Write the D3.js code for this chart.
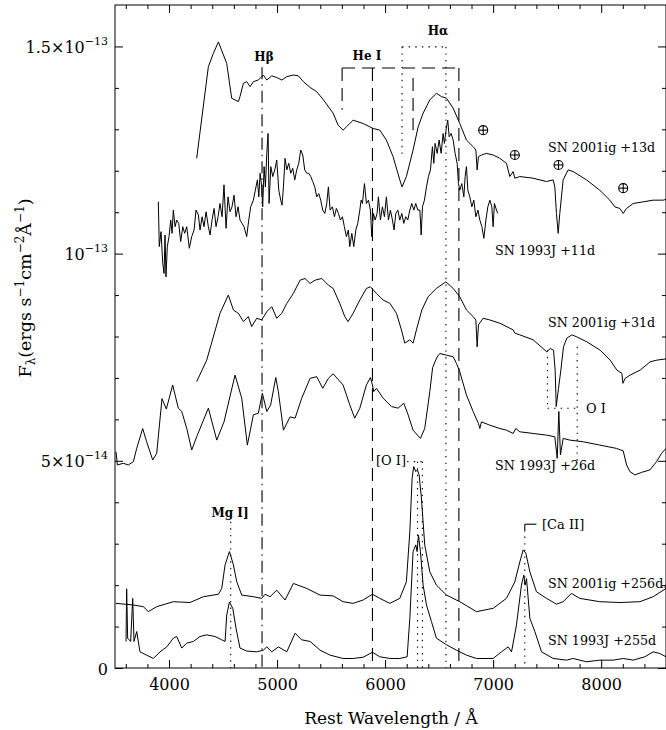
<!DOCTYPE html>
<html>
<head>
<meta charset="utf-8">
<title>SN 2001ig and SN 1993J spectra</title>
<script src="https://d3js.org/d3.v7.js"></script>
<style>
    body { margin: 0; background: #fff; }
    svg text { font-family: "DejaVu Serif", serif; fill: #000; }
    .spec { fill: none; stroke: #000; stroke-width: 1; stroke-linejoin: round; }
    .mark { fill: none; stroke: #000; stroke-width: 1.1; }
</style>
</head>
<body>
<svg id="chart" width="666" height="730"></svg>
<script>
    // Spectra (wavelength in Angstrom, flux in 1e-14 erg/s/cm2/A, offsets included)
    var ig13Wave = [4256,4364,4410,4457,4534,4580,4611,4642,4657,4688,4719,4750,4781,4827,4873,4905,4951,4997,5044,5090,5151,5197,5244,5306,5367,5429,5519,5565,5611,5642,5704,5796,5889,5951,6012,6074,6136,6157,6197,6259,6306,6352,6414,6475,6521,6568,6630,6691,6753,6815,6840,6852,6864,6892,6938,7000,7062,7123,7154,7185,7201,7247,7370,7494,7556,7571,7586,7602,7617,7648,7694,7741,7864,7987,8080,8126,8173,8204,8235,8296,8389,8481,8574,8600];
    var ig13Flux = [12.30,14.51,14.83,15.11,14.59,13.75,13.71,13.67,13.79,14.11,14.15,14.03,14.15,14.19,14.31,14.19,14.29,14.25,14.19,14.27,14.31,14.29,14.15,14.01,13.91,13.71,13.39,13.10,12.98,13.06,13.22,13.14,13.02,12.98,12.74,12.34,11.78,11.61,11.86,12.50,13.06,13.39,13.71,13.87,13.79,13.75,13.51,13.14,12.74,12.58,12.50,12.02,12.34,12.38,12.42,12.38,12.30,12.18,11.86,11.98,11.82,11.86,11.82,11.74,11.78,11.61,10.97,10.49,10.97,11.78,12.02,11.98,11.78,11.53,11.29,11.13,11.09,10.97,11.09,11.21,11.25,11.29,11.29,11.31];

    var j11Wave = [3901,3910,3926,3942,3954,3963,3972,3984,4000,4016,
        4028,4040,4056,4071,4090,4108,4127,4145,4164,4188,
        4210,4232,4250,4272,4287,4306,4324,4343,4364,4380,
        4398,4417,4435,4454,4472,4491,4509,4528,4546,4565,
        4583,4602,4620,4639,4657,4676,4694,4719,4738,4756,
        4781,4799,4818,4831,4843,4858,4867,4880,4892,4905,
        4917,4926,4942,4960,4979,4997,5016,5034,5046,5059,
        5074,5090,5108,5127,5145,5164,5182,5201,5219,5238,
        5256,5275,5293,5312,5330,5349,5367,5386,5404,5423,
        5442,5460,5475,5491,5512,5531,5549,5568,5586,5605,
        5623,5642,5660,5673,5692,5710,5729,5747,5766,5778,
        5790,5809,5827,5846,5864,5877,5892,5908,5926,5938,
        5957,5975,5994,6012,6031,6049,6068,6083,6099,6118,
        6136,6155,6173,6192,6210,6229,6247,6266,6284,6303,
        6322,6334,6346,6364,6383,6401,6420,6438,6451,6463,
        6482,6500,6519,6537,6549,6568,6580,6593,6611,6630,
        6648,6667,6679,6691,6710,6729,6741,6753,6766,6784,
        6803,6821,6840,6859,6877,6896,6914,6933,6951,6970,
        6988,7000,7012,7031,7043];
    var j11Flux = [11.25,10.17,10.53,9.77,9.52,10.45,9.44,10.17,10.41,10.81,
        10.49,11.05,10.65,10.81,10.73,10.29,10.65,10.49,10.65,10.13,
        10.41,10.57,11.05,10.93,10.57,10.89,10.65,11.01,10.65,10.45,
        10.81,11.09,10.65,10.89,11.21,10.89,11.66,10.61,11.37,11.01,
        11.13,11.41,10.89,11.13,10.81,10.73,10.65,10.41,10.81,11.13,
        11.29,11.53,11.78,11.37,11.94,11.61,11.13,12.10,11.61,12.42,
        12.90,11.21,12.10,11.86,12.02,12.26,11.53,11.29,11.17,11.61,
        12.30,12.02,12.18,11.94,12.06,11.78,12.02,12.18,12.50,12.38,
        12.02,11.94,11.94,11.86,11.74,11.61,11.37,11.45,11.29,11.05,
        10.97,11.21,11.61,11.05,11.13,10.89,11.09,10.97,10.81,10.89,
        10.65,10.41,10.57,10.17,10.49,10.17,10.57,10.73,11.05,11.29,
        11.21,11.69,11.21,11.29,11.05,10.41,10.97,10.81,10.97,11.37,
        10.81,11.13,10.89,11.37,10.81,11.05,10.81,10.57,10.97,11.05,
        10.81,10.97,10.73,10.89,10.81,11.05,11.21,11.05,11.21,11.05,
        11.05,10.45,11.13,11.29,11.61,11.86,12.02,12.58,12.18,12.66,
        12.42,12.74,12.42,12.90,12.66,13.06,13.22,12.82,12.90,12.74,
        12.42,12.18,11.69,11.53,11.69,11.37,11.86,12.10,11.53,11.37,
        11.13,11.29,10.89,11.05,10.81,10.65,10.37,10.81,11.13,11.29,
        11.13,10.65,11.21,11.05,10.97];

    var ig31Wave = [4256,4349,4472,4549,4596,4642,4688,4734,4765,4812,4858,4905,4951,4997,5044,5090,5151,5213,5259,5306,5352,5414,5475,5519,5580,5627,5657,5704,5766,5827,5864,5920,5982,6044,6105,6151,6182,6229,6259,6290,6340,6398,6475,6562,6630,6691,6753,6815,6840,6852,6864,6907,6969,7062,7154,7185,7201,7247,7370,7497,7528,7559,7574,7584,7605,7627,7651,7682,7729,7775,7868,7991,8083,8145,8192,8201,8222,8269,8361,8454,8516,8600];
    var ig31Flux = [6.91,7.43,8.56,9.00,8.64,8.56,8.36,8.48,8.24,8.44,8.40,8.60,8.72,8.44,8.56,8.80,9.04,9.36,9.40,9.28,9.36,9.40,9.24,9.16,8.80,8.48,8.36,8.56,8.88,9.16,9.20,9.04,8.88,8.80,8.56,8.16,7.84,7.92,7.84,8.16,8.64,8.96,9.16,9.32,9.16,8.96,8.64,8.48,8.40,7.75,8.28,8.44,8.40,8.32,8.20,8.16,8.08,8.04,7.92,7.63,7.71,7.67,7.19,6.31,6.75,7.19,7.75,7.96,8.04,7.99,7.87,7.67,7.43,7.19,7.11,6.87,6.99,7.07,7.19,7.39,7.43,7.46];

    var j26Wave = [3509,3522,3577,3623,3670,3701,3756,3793,3849,3886,3935,3975,4034,4086,4118,4164,4210,4256,4364,4442,4509,4611,4673,4725,4781,4827,4864,4905,4941,4988,5012,5059,5120,5167,5228,5306,5367,5423,5475,5519,5611,5673,5719,5766,5827,5864,5883,5895,5920,5982,6059,6120,6173,6213,6259,6327,6367,6414,6440,6480,6506,6568,6630,6661,6691,6753,6815,6864,6877,6892,6969,7062,7123,7185,7210,7247,7370,7494,7571,7593,7608,7623,7648,7710,7833,7987,8141,8204,8235,8266,8312,8373,8451,8512,8559,8600];
    var j26Flux = [5.22,4.90,4.94,4.90,4.98,5.30,5.78,5.46,5.02,5.18,6.50,6.25,6.83,6.27,6.19,5.78,5.26,5.58,6.27,5.50,5.94,7.07,6.51,5.38,6.11,6.15,6.63,6.19,6.35,7.01,6.67,5.74,6.06,6.03,6.51,6.99,7.03,6.75,6.99,7.10,6.83,6.35,6.03,6.27,6.83,7.01,6.83,6.67,6.75,6.51,6.31,6.27,6.39,6.11,5.74,5.54,5.78,6.67,7.25,7.50,7.59,7.55,7.51,7.35,7.15,6.59,6.19,5.90,5.78,5.94,5.86,5.78,5.74,5.66,5.78,5.70,5.66,5.62,5.58,5.06,6.19,5.14,5.54,5.50,5.46,5.38,5.30,5.24,4.90,4.74,4.66,4.72,4.78,4.98,5.18,5.30];

    var ig256Wave = [3509,3670,3762,3809,3886,4040,4194,4318,4457,4488,4519,4559,4596,4627,4673,4781,4858,4889,4935,4997,5074,5151,5275,5398,5519,5611,5704,5796,5883,5951,6044,6136,6197,6229,6250,6265,6284,6299,6315,6336,6367,6414,6475,6568,6691,6846,7000,7123,7201,7247,7278,7303,7340,7401,7494,7586,7648,7725,7802,7987,8173,8358,8481,8600];
    var ig256Flux = [1.56,1.52,1.48,1.36,1.48,1.60,1.58,1.72,1.78,1.92,2.49,2.81,2.49,2.08,1.76,1.72,1.68,1.78,1.72,1.88,1.64,2.04,1.92,1.76,1.74,1.60,1.56,1.64,1.78,1.68,1.56,1.68,2.08,3.29,4.58,4.86,4.74,4.78,4.66,4.10,2.97,2.32,2.00,1.76,1.60,1.36,1.44,1.68,2.08,2.56,2.85,2.77,2.32,1.84,1.68,1.54,1.60,1.80,1.68,1.60,1.58,1.60,1.72,1.92];

    var j255Wave = [3602,3608,3617,3645,3664,3676,3701,3731,3793,3855,3917,3979,4040,4071,4118,4164,4225,4287,4349,4426,4488,4519,4534,4559,4590,4620,4657,4719,4812,4873,4905,4951,5012,5090,5167,5228,5306,5398,5491,5611,5704,5796,5883,5951,6044,6136,6204,6229,6259,6284,6296,6309,6327,6352,6383,6429,6475,6568,6661,6753,6846,7000,7077,7139,7170,7216,7262,7284,7296,7309,7340,7386,7448,7556,7679,7741,7864,7987,8111,8204,8296,8404,8481,8543,8600];
    var j255Flux = [0.64,1.91,0.72,0.64,1.68,0.64,0.88,0.39,0.31,0.23,0.39,0.51,0.72,0.76,0.48,0.60,0.64,0.76,0.80,0.76,0.68,0.64,1.28,1.59,1.44,0.96,0.48,0.41,0.39,0.43,0.51,0.39,0.51,0.39,0.84,0.68,0.64,0.43,0.31,0.23,0.23,0.26,0.38,0.27,0.23,0.23,0.27,1.20,2.81,2.97,2.81,3.21,2.81,2.00,1.52,1.12,0.72,0.56,0.43,0.31,0.23,0.23,0.39,0.51,0.39,1.04,2.00,2.24,2.00,2.16,1.20,0.88,0.39,0.23,0.19,0.23,0.15,0.19,0.19,0.23,0.19,0.27,0.39,0.35,0.27];

    // Axis ticks
    var majorX = [4000, 5000, 6000, 7000, 8000];
    var minorX = d3.range(3600, 8600, 200).filter(function (d) { return d % 1000 !== 0; });
    var majorY = [0, 5, 10, 15];
    var minorY = d3.range(1, 16).filter(function (d) { return d % 5 !== 0; });
    var yTickMain = ["0", "5\u00d710", "10", "1.5\u00d710"];
    var yTickExp = ["", "\u221214", "\u221213", "\u221213"];

    // Telluric features
    var tellWave = [6908, 7201, 7605, 8204];
    var tellFlux = [12.98, 12.38, 12.14, 11.58];

    var plotL = 115, plotR = 666, plotT = 5, plotB = 668;

    var x = d3.scaleLinear().domain([3500, 8600]).range([plotL, plotR]);
    var y = d3.scaleLinear().domain([0, 16]).range([plotB, plotT]);

    var svg = d3.select("#chart");

    svg.append("clipPath").attr("id", "plotclip")
        .append("rect").attr("x", plotL).attr("y", plotT)
        .attr("width", plotR - plotL).attr("height", plotB - plotT);

    // Frame
    svg.append("rect")
        .attr("x", plotL).attr("y", plotT)
        .attr("width", plotR - plotL).attr("height", plotB - plotT)
        .attr("fill", "none").attr("stroke", "#000").attr("stroke-width", 1);

    function ticks(gen, tx, ty) {
        var g = svg.append("g").attr("class", "axis")
            .attr("transform", "translate(" + tx + "," + ty + ")")
            .call(gen);
        g.select(".domain").remove();
        g.selectAll("line").attr("stroke", "#000");
        g.attr("font-family", null).attr("font-size", null);
        return g;
    }

    var xb = ticks(d3.axisBottom(x).tickValues(majorX).tickSize(-8).tickPadding(11).tickFormat(d3.format("d")), 0, plotB);
    xb.selectAll("text").attr("font-size", 16).attr("fill", "#000");
    ticks(d3.axisBottom(x).tickValues(minorX).tickSize(-4).tickFormat(""), 0, plotB);
    ticks(d3.axisTop(x).tickValues(majorX).tickSize(-8).tickFormat(""), 0, plotT);
    ticks(d3.axisTop(x).tickValues(minorX).tickSize(-4).tickFormat(""), 0, plotT);
    ticks(d3.axisLeft(y).tickValues(majorY).tickSize(-8).tickFormat(""), plotL, 0);
    ticks(d3.axisLeft(y).tickValues(minorY).tickSize(-4).tickFormat(""), plotL, 0);
    ticks(d3.axisRight(y).tickValues(majorY).tickSize(-8).tickFormat(""), plotR, 0);
    ticks(d3.axisRight(y).tickValues(minorY).tickSize(-4).tickFormat(""), plotR, 0);

    // y tick labels with exponents
    majorY.forEach(function (v, i) {
        var t = svg.append("text")
            .attr("x", 108).attr("y", y(v) + 6.5)
            .attr("text-anchor", "end").attr("font-size", 16);
        t.append("tspan").text(yTickMain[i]);
        if (yTickExp[i]) {
            t.append("tspan").attr("dy", -8).attr("font-size", 11).text(yTickExp[i]);
        }
    });

    // Axis titles
    svg.append("text")
        .attr("x", 391).attr("y", 724)
        .attr("text-anchor", "middle").attr("font-size", 17)
        .text("Rest Wavelength / \u00c5");

    var yl = svg.append("text")
        .attr("transform", "translate(31,288) rotate(-90)")
        .attr("text-anchor", "middle").attr("font-size", 17.5);
    yl.append("tspan").text("F");
    yl.append("tspan").attr("dy", 4).attr("font-size", 12).text("\u03bb");
    yl.append("tspan").attr("dy", -4).text("(ergs s");
    yl.append("tspan").attr("dy", -7).attr("font-size", 12).text("\u22121");
    yl.append("tspan").attr("dy", 7).text("cm");
    yl.append("tspan").attr("dy", -7).attr("font-size", 12).text("\u22122");
    yl.append("tspan").attr("dy", 7).text("\u00c5");
    yl.append("tspan").attr("dy", -7).attr("font-size", 12).text("\u22121");
    yl.append("tspan").attr("dy", 7).text(")");

    // Line identifications
    var marks = svg.append("g").attr("class", "mark").attr("clip-path", "url(#plotclip)");
    var dashed = "13,7", dotted = "1.4,5.2", dashdot = "12,5,1.5,5";

    function vline(w, f0, f1, dash) {
        marks.append("line")
            .attr("x1", x(w)).attr("x2", x(w))
            .attr("y1", y(f0)).attr("y2", y(f1))
            .attr("stroke-dasharray", dash);
    }
    function hline(w0, w1, f, dash) {
        marks.append("line")
            .attr("x1", x(w0)).attr("x2", x(w1))
            .attr("y1", y(f)).attr("y2", y(f))
            .attr("stroke-dasharray", dash);
    }

    // H beta
    vline(4861, 14.5, 0, dashdot);
    // He I bracket
    hline(5602, 6683, 14.48, dashed);
    vline(5602, 14.48, 13.47, dashed);
    vline(5883, 14.48, 0, dashed);
    vline(6259, 14.24, 12.98, dashed);
    vline(6683, 14.48, 0, dashed);
    // H alpha bracket
    hline(6157, 6563, 14.99, dotted);
    vline(6157, 14.99, 12.33, dotted);
    vline(6563, 14.99, 0, dotted);
    // O I box
    vline(7503, 7.67, 6.27, dotted);
    hline(7503, 7778, 6.27, dotted);
    vline(7778, 7.75, 4.9, dotted);
    // [O I]
    hline(6204, 6345, 4.98, dotted);
    vline(6300, 4.98, 0, dotted);
    vline(6345, 4.98, 0, dotted);
    // Mg I]
    vline(4571, 3.53, 0, dotted);
    // [Ca II]
    vline(7293, 3.47, 3.33, null);
    hline(7293, 7401, 3.47, null);
    vline(7293, 3.33, 0, dotted);

    // Spectra
    var line = d3.line()
        .x(function (d) { return x(d[0]); })
        .y(function (d) { return y(d[1]); });

    var spectra = [
        [ig13Wave, ig13Flux, 1],
        [j11Wave, j11Flux, 1.3],
        [ig31Wave, ig31Flux, 1],
        [j26Wave, j26Flux, 1.1],
        [ig256Wave, ig256Flux, 1],
        [j255Wave, j255Flux, 1]
    ];
    var specG = svg.append("g").attr("clip-path", "url(#plotclip)");
    spectra.forEach(function (s) {
        specG.append("path")
            .attr("class", "spec")
            .attr("stroke-width", s[2])
            .attr("d", line(d3.zip(s[0], s[1])));
    });

    // Telluric symbols
    var tell = svg.append("g").attr("class", "mark").attr("stroke-width", 0.9);
    tellWave.forEach(function (w, i) {
        var cx = x(w), cy = y(tellFlux[i]);
        tell.append("circle").attr("cx", cx).attr("cy", cy).attr("r", 4.5);
        tell.append("line").attr("x1", cx - 4.5).attr("x2", cx + 4.5).attr("y1", cy).attr("y2", cy);
        tell.append("line").attr("x1", cx).attr("x2", cx).attr("y1", cy - 4.5).attr("y2", cy + 4.5);
    });

    // Labels
    function label(txt, px, py, size, anchor, weight) {
        svg.append("text")
            .attr("x", px).attr("y", py)
            .attr("font-size", size)
            .attr("text-anchor", anchor || "start")
            .attr("font-weight", weight || "normal")
            .text(txt);
    }
    label("SN 2001ig +13d", 548, 151.5, 12.7);
    label("SN 1993J +11d", 495, 255, 12.7);
    label("SN 2001ig +31d", 548, 326.5, 12.7);
    label("SN 1993J +26d", 495, 470, 12.7);
    label("SN 2001ig +256d.", 548, 588, 12.7);
    label("SN 1993J +255d", 548, 645, 12.7);

    label("H\u03b2", 264, 61, 12, "middle", "bold");
    label("He I", 367, 60, 12, "middle", "bold");
    label("H\u03b1", 438, 35, 12, "middle", "bold");
    label("Mg I]", 230, 517, 12, "middle", "bold");
    label("[O I]", 376, 465, 13);
    label("[Ca II]", 542, 529, 13);
    label("O I", 586, 412.5, 13);
</script>
</body>
</html>
